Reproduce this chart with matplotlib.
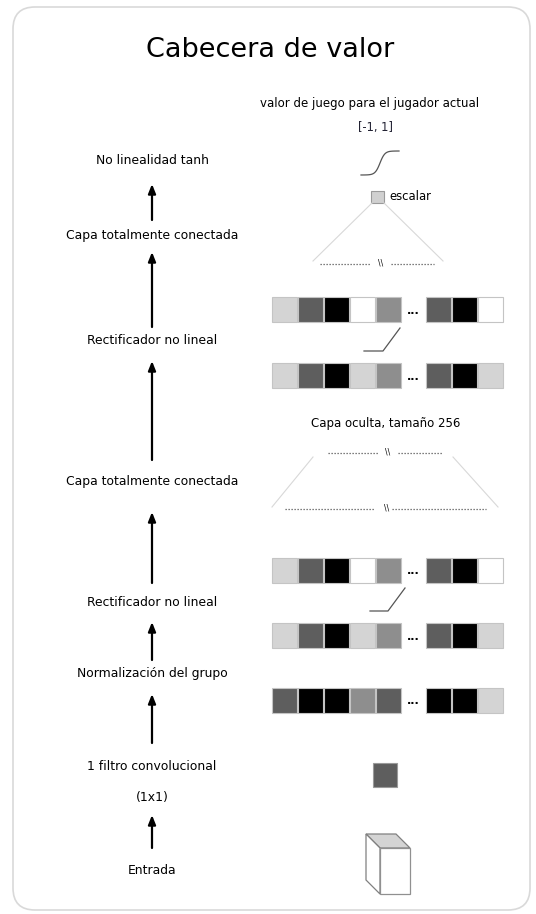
import numpy as np
import matplotlib.pyplot as plt
from matplotlib.patches import Rectangle, FancyBboxPatch, Polygon

# canvas in pixel units
W, H = 536, 914

title = 'Cabecera de valor'

# left column: layer names and arrows between them
left_labels = ['No linealidad tanh', 'Capa totalmente conectada', 'Rectificador no lineal',
               'Capa totalmente conectada', 'Rectificador no lineal', 'Normalización del grupo',
               '1 filtro convolucional', '(1x1)', 'Entrada']
left_label_y = [160, 235, 340, 482, 602, 673, 767, 797, 870]
arrow_tail_y = [220, 327, 460, 583, 660, 743, 848]
arrow_tip_y = [184, 252, 361, 512, 622, 694, 815]

# right column texts
out_text = 'valor de juego para el jugador actual'
range_text = '[-1, 1]'
scalar_text = 'escalar'
hidden_text = 'Capa oculta, tamaño 256'

# feature rows (gray shade per cell), top to bottom
shades = {'light': '#d4d4d4', 'dark': '#5e5e5e', 'black': '#000000',
          'white': '#ffffff', 'mid': '#8e8e8e'}
row1 = ['light', 'dark', 'black', 'white', 'mid', 'dark', 'black', 'white']
row2 = ['light', 'dark', 'black', 'light', 'mid', 'dark', 'black', 'light']
row3 = ['light', 'dark', 'black', 'white', 'mid', 'dark', 'black', 'white']
row4 = ['light', 'dark', 'black', 'light', 'mid', 'dark', 'black', 'light']
row5 = ['dark', 'black', 'black', 'mid', 'dark', 'black', 'black', 'light']
rows = [row1, row2, row3, row4, row5]
row_top = [297, 363, 558, 623, 688]
cell_x = [272, 298, 324, 350, 376, 426, 452, 478]
cell = 25

fig = plt.figure(figsize=(W / 100, H / 100), dpi=100)
ax = fig.add_axes([0, 0, 1, 1])
ax.set_xlim(0, W)
ax.set_ylim(H, 0)
ax.axis('off')

font = 'DejaVu Sans'

# card border
ax.add_patch(FancyBboxPatch((13, 7), 517, 903, boxstyle='round,pad=0,rounding_size=22',
                            fc='white', ec='#d9d9d9', lw=1.2))

ax.text(270, 50, title, ha='center', va='center', fontsize=19.5, family=font)

# left column
for lab, y in zip(left_labels, left_label_y):
    ax.text(152, y, lab, ha='center', va='center', fontsize=8.9, family=font)
for t, h in zip(arrow_tail_y, arrow_tip_y):
    ax.annotate('', xy=(152, h), xytext=(152, t),
                arrowprops=dict(arrowstyle='-|>,head_length=0.55,head_width=0.22',
                                color='black', lw=1.6, shrinkA=0, shrinkB=0))

# right column: output
ax.text(370, 103, out_text, ha='center', va='center', fontsize=8.5, family=font)
ax.text(376, 127, range_text, ha='center', va='center', fontsize=8.3, family=font, color='#222233')

xs = np.linspace(-3, 3, 60)
ax.plot(361 + (xs + 3) / 6 * 38, 163 - np.tanh(xs * 1.3) * 12, color='#555555', lw=0.9)

ax.add_patch(Rectangle((371, 191), 13, 12, fc='#d0d0d0', ec='#9a9a9a', lw=0.8))
ax.text(389, 197, scalar_text, ha='left', va='center', fontsize=8.4, family=font)


def dotted(y, x0, x1, x2, x3, xm):
    ax.plot([x0, x1], [y, y], color='#555555', lw=0.9, ls=(0, (1, 1.4)))
    ax.plot([x2, x3], [y, y], color='#555555', lw=0.9, ls=(0, (1, 1.4)))
    ax.text(xm, y - 1, '\\\\', ha='center', va='center', fontsize=5.5, family=font)


# fully connected to scalar
ax.plot([372, 313], [203, 261], color='#d8d8d8', lw=0.8)
ax.plot([384, 443], [203, 261], color='#d8d8d8', lw=0.8)
dotted(264, 320, 371, 391, 434, 381)

# hidden layer
ax.text(386, 424, hidden_text, ha='center', va='center', fontsize=8.5, family=font)
ax.plot([313, 272], [457, 507], color='#d8d8d8', lw=0.8)
ax.plot([453, 498], [457, 507], color='#d8d8d8', lw=0.8)
dotted(453, 328, 379, 398, 443, 388)
dotted(509, 285, 375, 392, 486, 387)

# feature rows
for row, top in zip(rows, row_top):
    for x, s in zip(cell_x, row):
        ax.add_patch(Rectangle((x, top), cell, cell, fc=shades[s], ec='#c4c4c4', lw=0.8))
    ax.text(413, top + cell / 2 + 1, '...', ha='center', va='center', fontsize=8,
            fontweight='bold', family=font)

# relu glyphs
ax.plot([364, 383, 400], [351, 351, 328], color='#555555', lw=0.9)
ax.plot([370, 388, 405], [611, 611, 588], color='#555555', lw=0.9)

# 1x1 conv output
ax.add_patch(Rectangle((373, 763), 24, 24, fc='#5e5e5e', ec='#9a9a9a', lw=0.8))

# input cube
ax.add_patch(Polygon([(366, 834), (396, 834), (410, 848), (380, 848)], closed=True,
                     fc='#d4d4d4', ec='#808080', lw=0.9))
ax.add_patch(Polygon([(366, 834), (380, 848), (380, 894), (366, 880)], closed=True,
                     fc='white', ec='#808080', lw=0.9))
ax.add_patch(Rectangle((380, 848), 30, 46, fc='white', ec='#909090', lw=0.9))

fig.savefig('out.png', dpi=100)
